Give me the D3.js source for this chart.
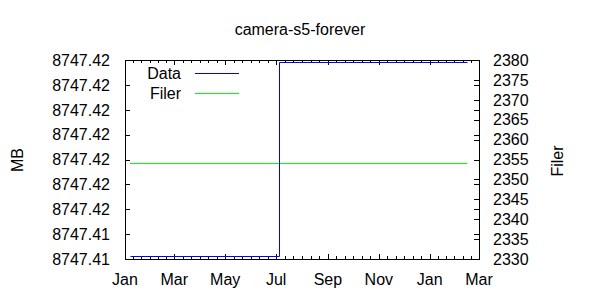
<!DOCTYPE html>
<html>
<head>
<meta charset="utf-8">
<script src="https://cdn.jsdelivr.net/npm/d3@7"></script>
<style>
  body { margin: 0; background: #fff; }
  svg { font-family: "Liberation Sans", Arial, sans-serif; }
  text { fill: #000; }
</style>
</head>
<body>
<svg width="600" height="300"></svg>
<script>
const title = "camera-s5-forever"

// left axis (MB) tick values and the labels as printed
const mb_ticks = [8747.4140, 8747.4145, 8747.4150, 8747.4155, 8747.4160, 8747.4165, 8747.4170, 8747.4175, 8747.4180]
const mb_labels = ["8747.41", "8747.41", "8747.42", "8747.42", "8747.42", "8747.42", "8747.42", "8747.42", "8747.42"]
const filer_ticks = [2330, 2335, 2340, 2345, 2350, 2355, 2360, 2365, 2370, 2375, 2380]
const month_names = ["Jan", "Feb", "Mar", "Apr", "May", "Jun", "Jul", "Aug", "Sep", "Oct", "Nov", "Dec"]

const data_dates = ["2013-01-07", "2013-07-04", "2014-02-15"]
const data_mb = [8747.41406, 8747.41796, 8747.41796]
const filer_dates = ["2013-01-07", "2014-02-15"]
const filer_values = [2354.1, 2354.1]

const parse = d3.utcParse("%Y-%m-%d")
const m_left = 125, m_right = 479, m_top = 60, m_bottom = 259

const svg = d3.select("svg")

const x = d3.scaleUtc()
    .domain([parse("2013-01-01"), parse("2014-03-01")])
    .range([m_left, m_right])
const y = d3.scaleLinear().domain([8747.414, 8747.418]).range([m_bottom, m_top])
const y2 = d3.scaleLinear().domain([2330, 2380]).range([m_bottom, m_top])

// border
svg.append("rect")
    .attr("x", m_left + 0.5).attr("y", m_top + 0.5)
    .attr("width", m_right - m_left).attr("height", m_bottom - m_top)
    .attr("fill", "none").attr("stroke", "#000")

// x ticks, major every two months, 5 minor between
const majors = d3.utcMonth.every(2).range(x.domain()[0], d3.utcDay.offset(x.domain()[1], 1))
const minors = []
for (let i = 0; i < majors.length - 1; i++) {
    const a = +majors[i], b = +majors[i + 1]
    for (let k = 1; k < 6; k++) minors.push(new Date(a + (b - a) * k / 6))
}
const ticks = svg.append("g").attr("stroke", "#000")
majors.forEach(d => {
    const px = Math.round(x(d)) + 0.5
    ticks.append("line").attr("x1", px).attr("x2", px).attr("y1", m_bottom).attr("y2", m_bottom - 5)
    ticks.append("line").attr("x1", px).attr("x2", px).attr("y1", m_top).attr("y2", m_top + 5)
})
minors.forEach(d => {
    const px = Math.round(x(d)) + 0.5
    ticks.append("line").attr("x1", px).attr("x2", px).attr("y1", m_bottom).attr("y2", m_bottom - 3)
    ticks.append("line").attr("x1", px).attr("x2", px).attr("y1", m_top).attr("y2", m_top + 3)
})
svg.append("g").selectAll("text")
    .data(majors)
    .join("text")
    .attr("x", d => x(d))
    .attr("y", 285)
    .attr("text-anchor", "middle")
    .attr("font-size", 16)
    .text(d => month_names[d.getUTCMonth()])

// left axis
mb_ticks.forEach((v, i) => {
    const py = Math.round(y(v)) + 0.5
    ticks.append("line").attr("x1", m_left).attr("x2", m_left + 5).attr("y1", py).attr("y2", py)
    ticks.append("line").attr("x1", m_right).attr("x2", m_right - 5).attr("y1", py).attr("y2", py)
    svg.append("text")
        .attr("x", 110).attr("y", y(v)).attr("dy", "0.36em")
        .attr("text-anchor", "end").attr("font-size", 16)
        .text(mb_labels[i])
})

// right axis
filer_ticks.forEach(v => {
    const py = Math.round(y2(v)) + 0.5
    ticks.append("line").attr("x1", m_right).attr("x2", m_right - 5).attr("y1", py).attr("y2", py)
    svg.append("text")
        .attr("x", 493).attr("y", y2(v)).attr("dy", "0.36em")
        .attr("font-size", 16)
        .text(v)
})

// axis titles
svg.append("text")
    .attr("transform", "translate(23,160) rotate(-90)")
    .attr("text-anchor", "middle").attr("font-size", 16)
    .text("MB")
svg.append("text")
    .attr("transform", "translate(563,161) rotate(-90)")
    .attr("text-anchor", "middle").attr("font-size", 16)
    .text("Filer")
svg.append("text")
    .attr("x", 300).attr("y", 35)
    .attr("text-anchor", "middle").attr("font-size", 16)
    .text(title)

// series
const data_pts = data_dates.map((d, i) => [parse(d), data_mb[i]])
const filer_pts = filer_dates.map((d, i) => [parse(d), filer_values[i]])

svg.append("path")
    .datum(filer_pts)
    .attr("fill", "none").attr("stroke", "#00ff00").attr("stroke-width", 1)
    .attr("d", d3.line().x(d => x(d[0])).y(d => Math.round(y2(d[1])) + 0.5))

svg.append("path")
    .datum(data_pts)
    .attr("fill", "none").attr("stroke", "#0000ff").attr("stroke-width", 1)
    .attr("d", d3.line().curve(d3.curveStepAfter)
        .x(d => Math.round(x(d[0])) + 0.5).y(d => Math.round(y(d[1])) + 0.5))

// legend
const legend = [["Data", "#0000ff", 73], ["Filer", "#00ff00", 93]]
legend.forEach(([name, color, ly]) => {
    svg.append("text")
        .attr("x", 181).attr("y", ly).attr("dy", "0.36em")
        .attr("text-anchor", "end").attr("font-size", 16)
        .text(name)
    svg.append("line")
        .attr("x1", 195).attr("x2", 239).attr("y1", ly + 0.5).attr("y2", ly + 0.5)
        .attr("stroke", color)
})
</script>
</body>
</html>
